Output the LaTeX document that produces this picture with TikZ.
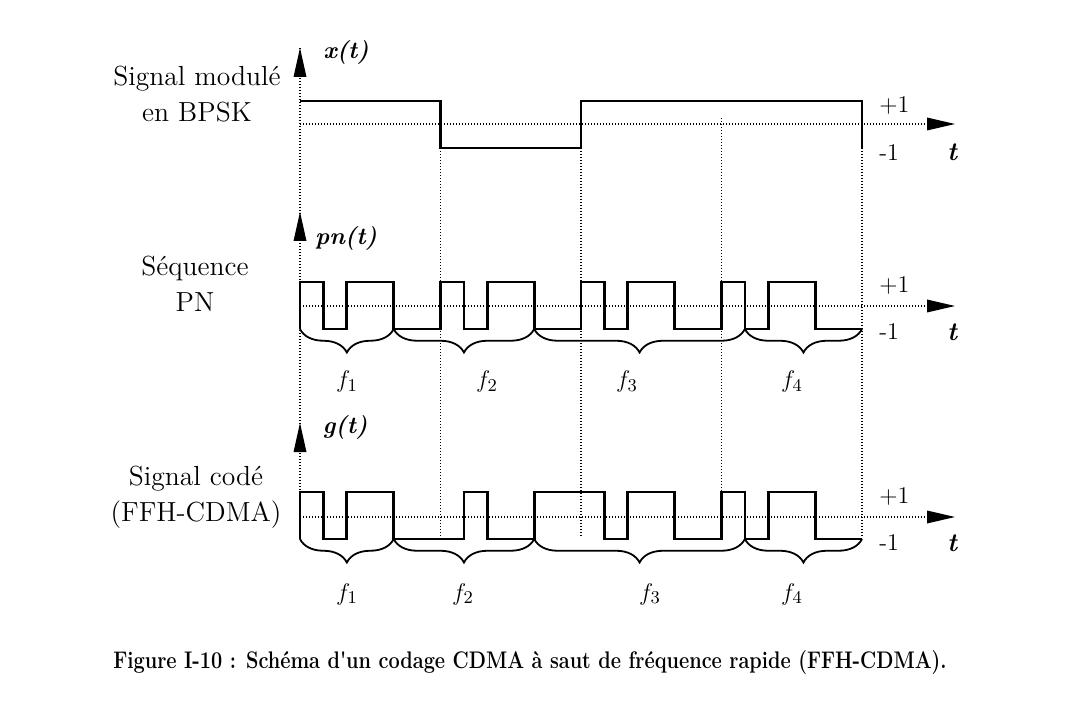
\documentclass[tikz,border=0pt]{standalone}
\usepackage{fontspec}
\usetikzlibrary{decorations.pathreplacing}
\begin{document}
\begin{tikzpicture}[x=0.5pt,y=-0.5pt,
  sig/.style={line width=1.4pt, line join=miter},
  dots/.style={line width=0.55pt, dash pattern=on 0.5pt off 1pt},
  brc/.style={line width=0.9pt, decorate, decoration={brace, amplitude=11.75pt}},
  lbl/.style={font=\fontsize{13.8}{18}\selectfont, align=center, inner sep=0pt},
  fn/.style={font=\bfseries\itshape\fontsize{12}{14}\selectfont, inner sep=0pt},
  lev/.style={font=\fontsize{12}{14}\selectfont, anchor=west, inner sep=0pt},
  tl/.style={font=\bfseries\itshape\fontsize{13}{15}\selectfont, inner sep=0pt},
  fl/.style={font=\fontsize{13}{15}\selectfont, inner sep=0pt},
  captxt/.style={font=\bfseries\fontsize{12}{14}\selectfont, inner sep=0pt},
]
\useasboundingbox (0,0) rectangle (1065,721);

% dotted grid lines
\draw[dots] (300,48) -- (300,492);
\draw[dots] (440.5,148) -- (440.5,538);
\draw[dots] (581,148) -- (581,538);
\draw[dots] (721.5,118) -- (721.5,492);
\draw[dots] (862,148) -- (862,538);
\foreach \z in {124,306,517} {
  \draw[dots] (300,\z) -- (928,\z);
  \fill (927,{\z-6.5}) -- (955,\z) -- (927,{\z+6.5}) -- cycle;
}
\foreach \tp in {48,212,423} {
  \fill (293.5,{\tp+29}) -- (300,\tp) -- (306.5,{\tp+29}) -- cycle;
}

% signals
\draw[sig] (300,101) -- (440.5,101) -- (440.5,148) -- (581,148) -- (581,101) -- (862,101) -- (862,148);

\draw[sig] (300,329) -- (300,282) -- (323.4,282) -- (323.4,329) -- (346.8,329) -- (346.8,282)
  -- (393.7,282) -- (393.7,329) -- (440.5,329) -- (440.5,282) -- (463.9,282) -- (463.9,329)
  -- (487.3,329) -- (487.3,282) -- (534.2,282) -- (534.2,329) -- (581,329) -- (581,282)
  -- (604.4,282) -- (604.4,329) -- (627.8,329) -- (627.8,282) -- (674.7,282) -- (674.7,329)
  -- (721.5,329) -- (721.5,282) -- (744.9,282) -- (744.9,329) -- (768.3,329) -- (768.3,282)
  -- (815.2,282) -- (815.2,329) -- (862,329);

\draw[sig] (300,539) -- (300,492) -- (323.4,492) -- (323.4,539) -- (346.8,539) -- (346.8,492)
  -- (393.7,492) -- (393.7,539) -- (463.9,539) -- (463.9,492) -- (487.3,492) -- (487.3,539)
  -- (534.2,539) -- (534.2,492) -- (604.4,492) -- (604.4,539) -- (627.8,539) -- (627.8,492)
  -- (674.7,492) -- (674.7,539) -- (721.5,539) -- (721.5,492) -- (744.9,492) -- (744.9,539)
  -- (768.3,539) -- (768.3,492) -- (815.2,492) -- (815.2,539) -- (862,539);

% braces
\foreach \yy in {329,539} {
  \draw[brc] (393.7,\yy) -- (300,\yy);
  \draw[brc] (534.2,\yy) -- (393.7,\yy);
  \draw[brc] (744.9,\yy) -- (534.2,\yy);
  \draw[brc] (862,\yy) -- (744.9,\yy);
}

% labels
\node[lbl] (l1) at (197,94) {Signal modulé\\en BPSK};
\node[lbl] (l2) at (195,284) {Séquence\\PN};
\node[lbl] (l3) at (196,497) {Signal codé\\(FFH-CDMA)};

\node[fn] (xt) at (346,52) {x(t)};
\node[fn] (pnt) at (346,238) {pn(t)};
\node[fn] (gt) at (345,427) {g(t)};

\node[lev] (p1) at (879,105) {+1};
\node[lev] (m1) at (879,153) {-1};
\node[lev] (p2) at (879,285) {+1};
\node[lev] (m2) at (879,332) {-1};
\node[lev] (p3) at (879,496) {+1};
\node[lev] (m3) at (879,543) {-1};
\node[tl] (t1) at (952,152) {t};
\node[tl] (t2) at (952,332) {t};
\node[tl] (t3) at (952,543) {t};

\node[fl] (fa1) at (347,382) {$f_1$};
\node[fl] (fa2) at (487,382) {$f_2$};
\node[fl] (fa3) at (627,382) {$f_3$};
\node[fl] (fa4) at (792,382) {$f_4$};
\node[fl] (fb1) at (347,594) {$f_1$};
\node[fl] (fb2) at (463,594) {$f_2$};
\node[fl] (fb3) at (650,594) {$f_3$};
\node[fl] (fb4) at (792,594) {$f_4$};

\node[captxt] (caption) at (530,663) {\scalebox{0.83}[1]{Figure I-10 : Schéma d\textquotesingle un codage CDMA à saut de fréquence rapide (FFH-CDMA).}};
\end{tikzpicture}
\end{document}
